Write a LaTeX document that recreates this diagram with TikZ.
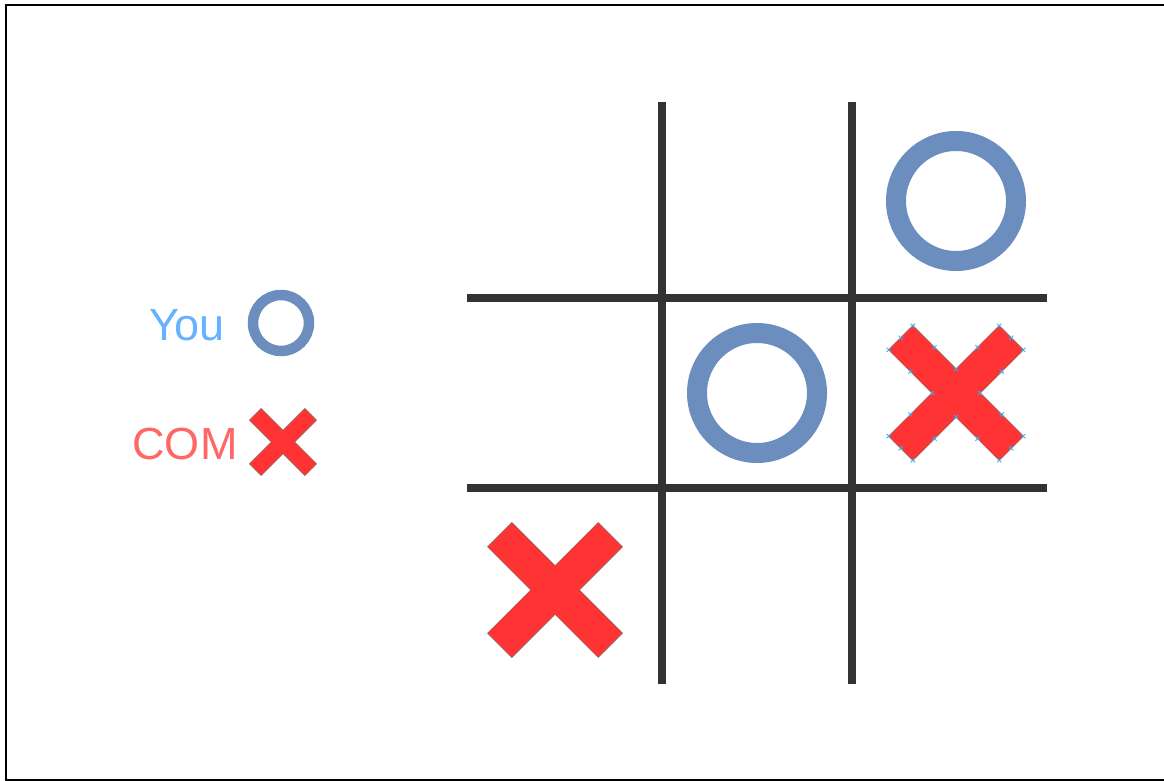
\documentclass[tikz,border=0pt]{standalone}
\usepackage{fontspec}
\setmainfont{Liberation Sans}
\usepackage{xcolor}
\usetikzlibrary{positioning}
\definecolor{gridgray}{HTML}{333333}
\definecolor{ringblue}{HTML}{6C8EBF}
\definecolor{crossred}{HTML}{FF3333}
\definecolor{crossedge}{HTML}{B85450}
\definecolor{handleblue}{HTML}{3EA6E8}
\definecolor{youtext}{HTML}{66B2FF}
\definecolor{comtext}{HTML}{FF6666}

\begin{document}
\begin{tikzpicture}[
  x=1pt, y=-1pt,
  gridline/.style={draw=gridgray, line width=8pt},
  ring/.style={circle, draw=ringblue, line width=20pt, minimum size=120pt, inner sep=0pt},
  smallring/.style={ring, line width=10.5pt, minimum size=56pt},
  xshape/.style={fill=crossred, draw=crossedge, line width=1pt, line join=miter},
  handle/.style={draw=handleblue, line width=0.8pt},
  lbl/.style={font=\fontsize{45}{52}\selectfont, inner sep=0pt, anchor=base},
  pics/crossmark/.style 2 args={code={
    \draw[xshape, rotate=45] (#2,#2) -- (#1,#2) -- (#1,-#2) -- (#2,-#2) -- (#2,-#1) -- (-#2,-#1)
      -- (-#2,-#2) -- (-#1,-#2) -- (-#1,#2) -- (-#2,#2) -- (-#2,#1) -- (#2,#1) -- cycle;
  }},
  pics/handles/.style 2 args={code={
    \begin{scope}[rotate=45]
      \foreach \ax/\ay/\bx/\by in {#2/#2/#1/#2, #1/#2/#1/-#2, #1/-#2/#2/-#2, #2/-#2/#2/-#1,
          #2/-#1/-#2/-#1, -#2/-#1/-#2/-#2, -#2/-#2/-#1/-#2, -#1/-#2/-#1/#2,
          -#1/#2/-#2/#2, -#2/#2/-#2/#1, -#2/#1/#2/#1, #2/#1/#2/#2} {
        \draw[handle] (\ax,\ay) +(-3,0) -- +(3,0) +(0,-3) -- +(0,3);
        \draw[handle] ({(\ax+\bx)/2},{(\ay+\by)/2}) +(-3,0) -- +(3,0) +(0,-3) -- +(0,3);
      }
    \end{scope}
  }}
]
\useasboundingbox (0,0) rectangle (1164,781);
\draw[line width=2pt] (6,5) rectangle (1172,780);

% board
\draw[gridline] (662,102) -- (662,684);
\draw[gridline] (852,102) -- (852,684);
\draw[gridline] (467,298) -- (1047,298);
\draw[gridline] (467,488) -- (1047,488);

% moves
\node[ring] (oTop) at (956,201) {};
\node[ring] (oMid) at (757,393) {};
\pic (xMid) at (956,393) {crossmark={78}{17}};
\pic (xMidSel) at (956,393) {handles={78}{17}};
\pic (xLow) at (555,590) {crossmark={78}{17}};

% legend
\node[lbl, text=youtext] (you) at (187,340) {You};
\node[smallring] (youO) at (281,323) {};
\node[lbl, text=comtext] (com) at (185,459) {COM};
\pic (comX) at (283,442) {crossmark={39}{8}};
\end{tikzpicture}
\end{document}
